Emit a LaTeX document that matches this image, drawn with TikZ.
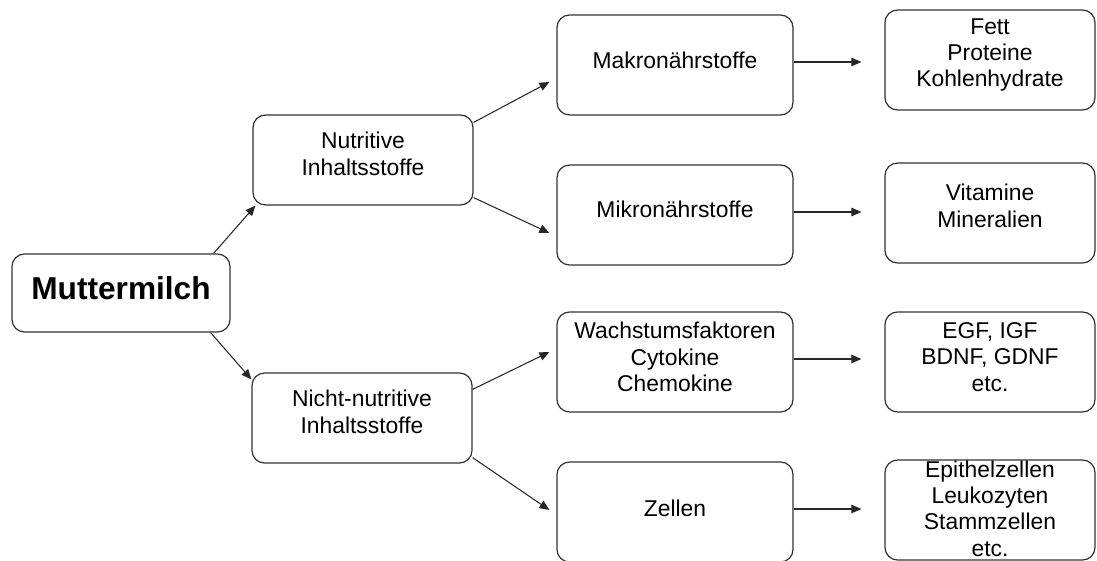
\documentclass[tikz,border=0pt]{standalone}
\usepackage{fontspec}
\setmainfont{Liberation Sans}
\usetikzlibrary{arrows.meta}

\begin{document}
\begin{tikzpicture}[
    box/.style={draw=black!80, line width=0.7pt, rounded corners=0.25cm, inner sep=0pt},
    mitte/.style={box, minimum width=4.4cm, minimum height=1.8cm},
    links/.style={box, minimum width=4.72cm, minimum height=2cm},
    rechts/.style={box, minimum width=4.2cm, minimum height=2cm},
    inhalt/.style={align=center, inner sep=0pt, font=\fontsize{13pt}{15pt}\selectfont},
    pfeil/.style={-{Triangle[length=0.2cm,width=0.17cm]}, line width=0.6pt, black!85}
]
    \useasboundingbox (0,0) rectangle (21.94,11.2);

    \node[box, minimum width=4.36cm, minimum height=1.56cm] (milch) at (2.42,5.34) {};
    \node[inhalt, font=\fontsize{18pt}{21pt}\selectfont\bfseries] (milch-t) at ([yshift=0.1cm]milch.center) {Muttermilch};

    \node[mitte] (nutr) at (7.26,8.0) {};
    \node[inhalt] (nutr-t) at ([yshift=0.12cm]nutr.center) {Nutritive\\Inhaltsstoffe};
    \node[mitte] (nicht) at (7.24,2.84) {};
    \node[inhalt] (nicht-t) at ([yshift=0.12cm]nicht.center) {Nicht-nutritive\\Inhaltsstoffe};

    \node[links] (makro) at (13.5,9.9) {};
    \node[inhalt] (makro-t) at ([yshift=0.1cm]makro.center) {Makronährstoffe};
    \node[links] (mikro) at (13.5,6.9) {};
    \node[inhalt] (mikro-t) at ([yshift=0.12cm]mikro.center) {Mikronährstoffe};
    \node[links] (wachs) at (13.5,3.96) {};
    \node[inhalt] (wachs-t) at ([yshift=0.1cm]wachs.center) {Wachstumsfaktoren\\Cytokine\\Chemokine};
    \node[links] (zellen) at (13.5,0.96) {};
    \node[inhalt] (zellen-t) at ([yshift=0.08cm]zellen.center) {Zellen};

    \node[rechts] (fett) at (19.8,10.0) {};
    \node[inhalt] (fett-t) at ([yshift=0.1cm]fett.center) {Fett\\Proteine\\Kohlenhydrate};
    \node[rechts] (vitam) at (19.8,6.94) {};
    \node[inhalt] (vitam-t) at ([yshift=0.14cm]vitam.center) {Vitamine\\Mineralien};
    \node[rechts] (egf) at (19.8,3.96) {};
    \node[inhalt] (egf-t) at ([yshift=0.1cm]egf.center) {EGF, IGF\\BDNF, GDNF\\etc.};
    \node[rechts] (epith) at (19.8,1.0) {};
    \node[inhalt] (epith-t) at ([yshift=0.03cm]epith.center) {Epithelzellen\\Leukozyten\\Stammzellen\\etc.};

    \draw[pfeil] ([xshift=-0.34cm]milch.north east) -- ([xshift=0.06cm]nutr.south west);
    \draw[pfeil] ([xshift=-0.4cm]milch.south east) -- ([yshift=-0.14cm]nicht.north west);

    \draw[pfeil] ([yshift=-0.16cm]nutr.north east) -- ([xshift=-0.14cm,yshift=-0.34cm]makro.west);
    \draw[pfeil] ([yshift=0.16cm]nutr.south east) -- ([xshift=-0.14cm,yshift=-0.36cm]mikro.west);
    \draw[pfeil] ([yshift=-0.34cm]nicht.north east) -- ([xshift=-0.14cm,yshift=0.2cm]wachs.west);
    \draw[pfeil] ([yshift=0.12cm]nicht.south east) -- ([xshift=-0.14cm,yshift=0.04cm]zellen.west);

    \foreach \a/\b in {makro/fett, mikro/vitam, wachs/egf, zellen/epith}
        \draw[pfeil] ([yshift=0.06cm]\a.east) -- ([xshift=-0.46cm,yshift=0.06cm]\a.east -| \b.west);
\end{tikzpicture}
\end{document}
